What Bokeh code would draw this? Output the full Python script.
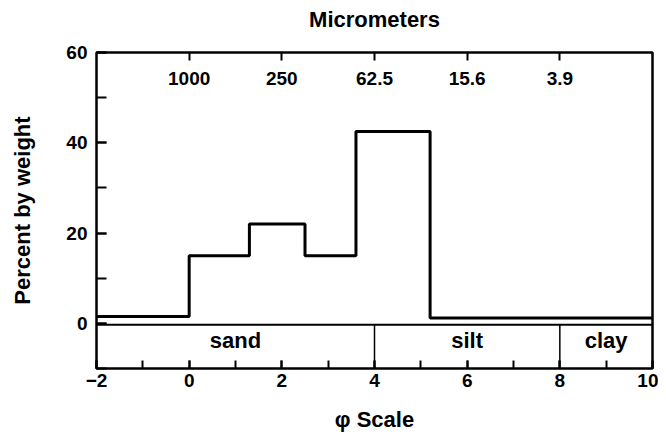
from bokeh.plotting import figure
from bokeh.models import Range1d, LinearAxis, FixedTicker, SingleIntervalTicker, ColumnDataSource
from bokeh.embed import file_html
from bokeh.resources import INLINE
from bokeh.core.properties import value

# --- data ---
phi_edges = [-2, 0, 1.3, 2.5, 3.6, 5.2, 10]
percent = [1.5, 15, 22, 15, 42.5, 1.2, 1.2]
um_ticks = [0, 2, 4, 6, 8]
um_labels = ["1000", "250", "62.5", "15.6", "3.9"]
class_bounds = [-2, 4, 8, 10]
class_names = ["sand", "silt", "clay"]
class_line = -0.3
class_label_y = -3.8

FONT = "Liberation Sans"

p = figure(width=658, height=436,
           x_range=Range1d(-2, 10), y_range=Range1d(-10, 60),
           output_backend="svg", toolbar_location=None,
           min_border_left=96, min_border_right=6,
           min_border_top=52, min_border_bottom=68)

p.background_fill_color = "white"
p.border_fill_color = "white"
p.xgrid.visible = False
p.ygrid.visible = False
p.outline_line_color = "black"
p.outline_line_width = 2.5

xa = p.xaxis[0]
xa.ticker = SingleIntervalTicker(interval=2, num_minor_ticks=2)
xa.axis_label = "\u03c6 Scale"

ya = p.yaxis[0]
ya.ticker = SingleIntervalTicker(interval=20, num_minor_ticks=2)
ya.axis_label = "Percent by weight"

# top axis (micrometers)
ta = LinearAxis(ticker=FixedTicker(ticks=um_ticks),
                major_label_overrides={t: l for t, l in zip(um_ticks, um_labels)},
                axis_label="Micrometers")
p.add_layout(ta, "above")

for ax, tin, std, lstd, fs in [(xa, 8, 5, 17, "19px"), (ya, 10, 9, 28, "19px"),
                               (ta, 8, -32, 37, "19px")]:
    ax.axis_line_color = None
    ax.major_tick_in = tin
    ax.major_tick_out = 0
    ax.minor_tick_in = tin
    ax.minor_tick_out = 0
    ax.major_tick_line_width = 2
    ax.minor_tick_line_width = 2
    ax.major_tick_line_color = "black"
    ax.minor_tick_line_color = "black"
    ax.major_label_text_font = FONT
    ax.major_label_text_font_size = fs
    ax.major_label_text_font_style = "bold"
    ax.major_label_text_color = "black"
    ax.major_label_standoff = std
    ax.axis_label_text_font = FONT
    ax.axis_label_text_font_size = "22px"
    ax.axis_label_text_font_style = "bold"
    ax.axis_label_text_color = "black"
    ax.axis_label_standoff = lstd
ta.minor_tick_line_color = None

# histogram step line
p.step(x=phi_edges, y=percent, mode="after", line_color="black", line_width=3)

# size class box
n_div = len(class_bounds) - 2
p.segment(x0=[class_bounds[0]], y0=[class_line], x1=[class_bounds[-1]], y1=[class_line],
          line_color="black", line_width=2)
p.segment(x0=class_bounds[1:-1], y0=[class_line] * n_div,
          x1=class_bounds[1:-1], y1=[p.y_range.start] * n_div,
          line_color="black", line_width=1.5)
centers = [(a + b) / 2 for a, b in zip(class_bounds[:-1], class_bounds[1:])]
src = ColumnDataSource(dict(x=centers, y=[class_label_y] * len(centers), t=class_names))
p.text(x="x", y="y", text="t", source=src, text_align="center", text_baseline="middle",
       text_font=value(FONT), text_font_size="22px", text_font_style="bold",
       text_color="black")

open("out.html", "w").write(file_html(p, INLINE))
